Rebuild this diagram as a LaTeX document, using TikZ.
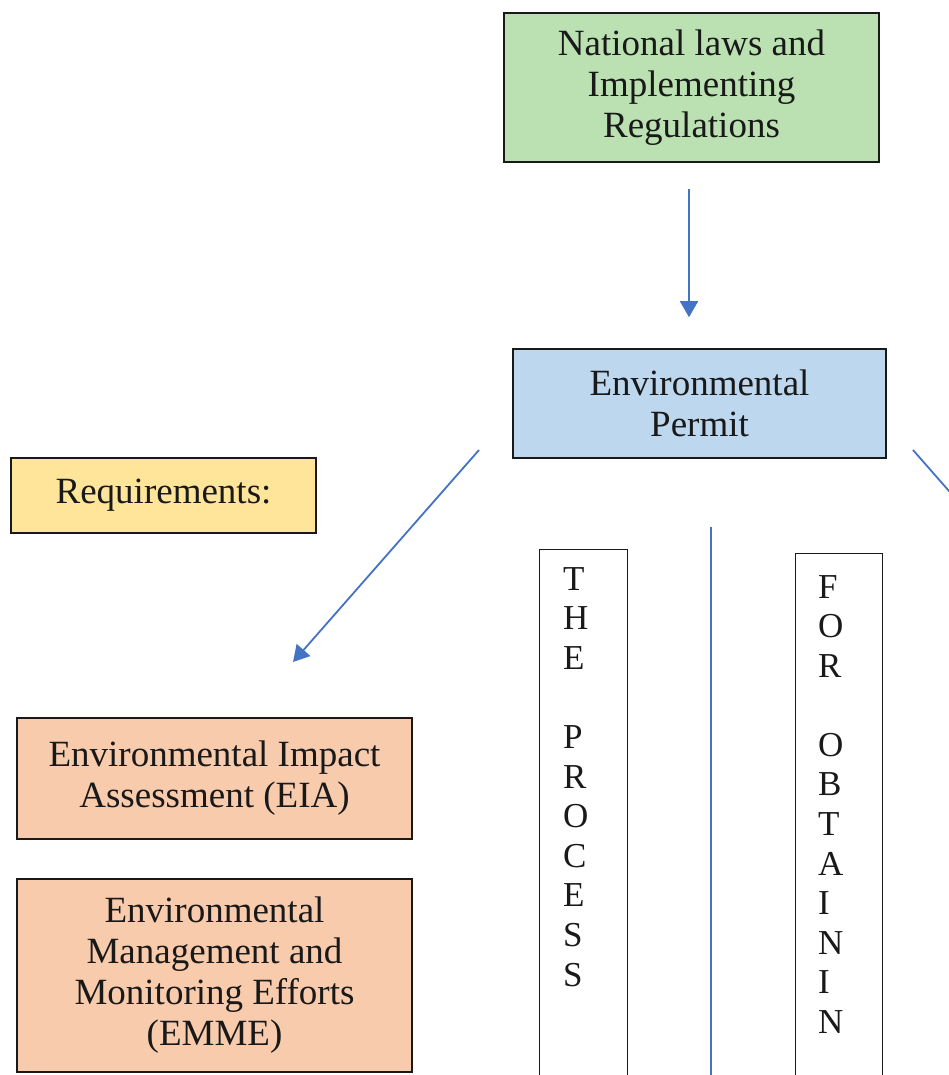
\documentclass[tikz,border=0pt]{standalone}
\usepackage{fontspec}
\setmainfont{Liberation Serif}
\usetikzlibrary{arrows.meta}
\definecolor{gfill}{RGB}{187,225,178}
\definecolor{bfill}{RGB}{189,215,238}
\definecolor{yfill}{RGB}{255,229,153}
\definecolor{ofill}{RGB}{248,203,173}
\definecolor{arr}{RGB}{68,114,196}
\definecolor{edge}{RGB}{25,25,25}
\begin{document}
\begin{tikzpicture}[x=1pt,y=-1pt,
  box/.style={draw=edge, line width=1.6pt, rectangle, inner sep=0pt, align=center,
    font=\fontsize{37}{41}\selectfont, text=black!90},
  vbox/.style={draw=edge, line width=1.4pt, rectangle, inner sep=0pt, anchor=north west, fill=white},
  stack/.style={inner sep=0pt, anchor=north west, align=left, font=\fontsize{35}{39.6}\selectfont, text=black!90},
  conn/.style={draw=arr, line width=1.8pt},
  tip/.style={-{Triangle[width=18pt,length=16pt]}}]
\useasboundingbox (0,0) rectangle (949,1075);
\clip (0,0) rectangle (949,1075);
\fill[white] (0,0) rectangle (949,1075);

\node[box, fill=gfill, minimum width=375pt, minimum height=149pt] (laws) at (691.5,87.5)
  {National laws and\\Implementing\\Regulations};
\node[box, fill=bfill, minimum width=373pt, minimum height=109pt] (permit) at (699.5,403.5)
  {Environmental\\Permit};
\node[box, fill=yfill, minimum width=305pt, minimum height=75pt] (req) at (163.5,495.5)
  {Requirements:};
\node[box, fill=ofill, minimum width=395pt, minimum height=121pt] (eia) at (214.5,778.5)
  {Environmental Impact\\Assessment (EIA)};
\node[box, fill=ofill, minimum width=395pt, minimum height=193pt] (emme) at (214.5,975.5)
  {Environmental\\Management and\\Monitoring Efforts\\(EMME)};

\node[vbox, minimum width=88pt, minimum height=600pt] (thebox) at (538.5,549) {};
\node[stack] (thetxt) at (563,567) {T\\H\\E\\[39.6pt]P\\R\\O\\C\\E\\S\\S};
\node[vbox, minimum width=87pt, minimum height=600pt] (forbox) at (795,553) {};
\node[stack] (fortxt) at (818,575) {F\\O\\R\\[39.3pt]O\\B\\T\\A\\I\\N\\I\\N};

\coordinate (lstart) at (479,450);
\coordinate (lend) at (293,662);
\coordinate (rstart) at (913,450);
\coordinate (rend) at (1099,662);
\coordinate (vtop) at (711,527);
\coordinate (vbot) at (711,1120);

\draw[conn, tip, shorten <=26pt, shorten >=31pt] ([xshift=-2.5pt]laws.south) -- ([xshift=-2.5pt]laws.south |- permit.north);
\draw[conn, tip] (lstart) -- (lend);
\draw[conn] (rstart) -- (rend);
\draw[conn] (vtop) -- (vbot);
\end{tikzpicture}
\end{document}
